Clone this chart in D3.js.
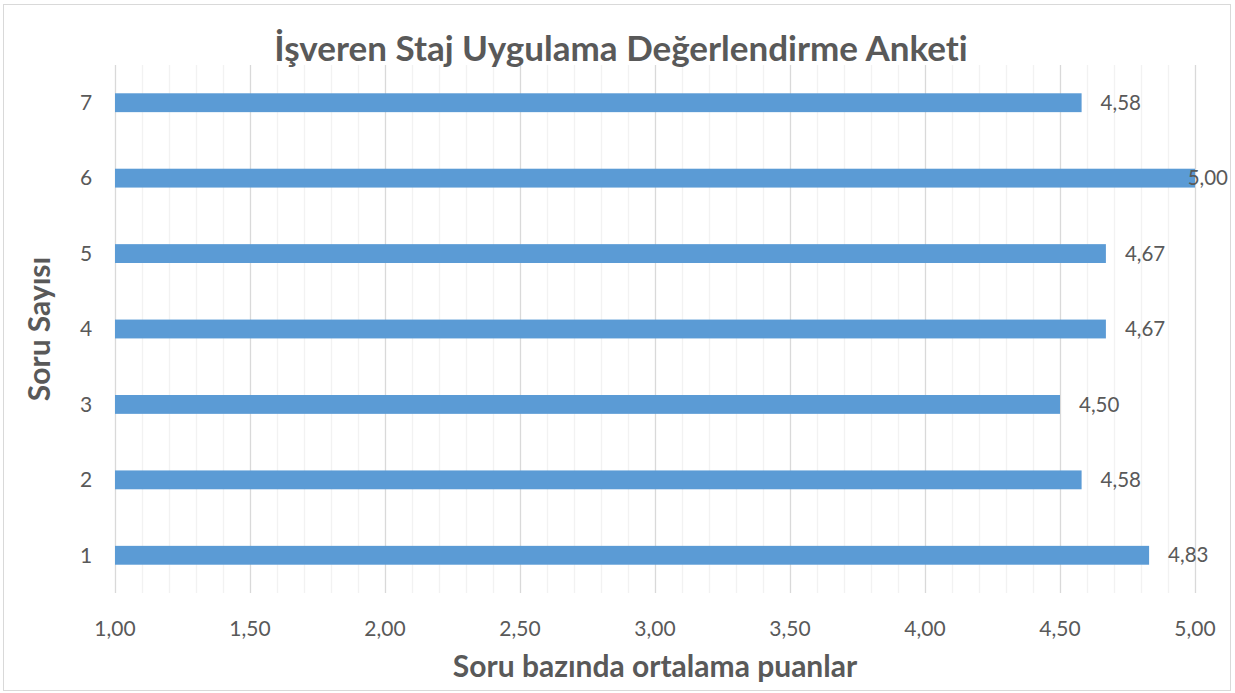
<!DOCTYPE html>
<html>
<head>
<meta charset="utf-8">
<script src="https://cdn.jsdelivr.net/npm/d3@7"></script>
<style>
    body { margin: 0; background: #fff; }
    text { font-family: Lato, "Open Sans", sans-serif; fill: #595959; font-variant-ligatures: none; }
</style>
</head>
<body>
<div id="chart"></div>
<script>
// chart data
var categories = ['1', '2', '3', '4', '5', '6', '7'];
var scores = [4.83, 4.58, 4.50, 4.67, 4.67, 5.00, 4.58];
var xTicks = [1.00, 1.50, 2.00, 2.50, 3.00, 3.50, 4.00, 4.50, 5.00];

var title = 'İşveren Staj Uygulama Değerlendirme Anketi';
var xTitle = 'Soru bazında ortalama puanlar';
var yTitle = 'Soru Sayısı';

var consts = {
    width: 1235,
    height: 693,
    left: 115,
    right: 1195,
    top: 65,
    bottom: 593
};

var fmt = function (v) { return d3.format('.2f')(v).replace('.', ','); };

var svg = d3.select('#chart').append('svg')
    .attr('width', consts.width)
    .attr('height', consts.height);

// outer frame
svg.append('rect')
    .attr('x', 3.5).attr('y', 4.5)
    .attr('width', 1227).attr('height', 686)
    .attr('fill', '#fff')
    .attr('stroke', '#D9D9D9');

var x = d3.scaleLinear().domain([1, 5]).range([consts.left, consts.right]);
var y = d3.scaleBand()
    .domain(categories.slice().reverse())
    .range([consts.top, consts.bottom])
    .paddingInner(0.75)
    .paddingOuter(0.375);

// minor gridlines every 0.1
var minor = d3.range(1, 5.001, 0.1).filter(function (v) {
    return Math.abs(v * 2 - Math.round(v * 2)) > 1e-6;
});
svg.append('g').selectAll('line')
    .data(minor).enter().append('line')
    .attr('x1', function (d) { return Math.round(x(d)) + 0.5; })
    .attr('x2', function (d) { return Math.round(x(d)) + 0.5; })
    .attr('y1', consts.top).attr('y2', consts.bottom)
    .attr('stroke', '#F2F2F2').attr('stroke-width', 1.3);

// major gridlines
svg.append('g').selectAll('line')
    .data(xTicks).enter().append('line')
    .attr('x1', function (d) { return Math.round(x(d)) + 0.5; })
    .attr('x2', function (d) { return Math.round(x(d)) + 0.5; })
    .attr('y1', consts.top).attr('y2', consts.bottom)
    .attr('stroke', '#D9D9D9').attr('stroke-width', 1.3);

// bars
svg.append('g').selectAll('rect')
    .data(scores).enter().append('rect')
    .attr('x', x(1))
    .attr('y', function (d, i) { return y(categories[i]); })
    .attr('width', function (d) { return x(d) - x(1); })
    .attr('height', y.bandwidth())
    .attr('fill', '#5B9BD5');

// value labels, pushed back inside the chart when they would overflow
var labels = svg.append('g').selectAll('text')
    .data(scores).enter().append('text')
    .attr('y', function (d, i) { return y(categories[i]) + y.bandwidth() / 2; })
    .attr('dy', '0.35em')
    .attr('font-size', 20.5)
    .text(fmt);
labels.attr('x', function (d) {
    var w = this.getComputedTextLength();
    return Math.min(x(d) + 19, 1228 - w);
});

// x axis tick labels
svg.append('g').selectAll('text')
    .data(xTicks).enter().append('text')
    .attr('x', function (d) { return x(d); })
    .attr('y', 636)
    .attr('text-anchor', 'middle')
    .attr('font-size', 21)
    .text(fmt);

// y axis tick labels
svg.append('g').selectAll('text')
    .data(categories).enter().append('text')
    .attr('x', 86)
    .attr('y', function (d) { return y(d) + y.bandwidth() / 2; })
    .attr('dy', '0.35em')
    .attr('text-anchor', 'middle')
    .attr('font-size', 21)
    .text(function (d) { return d; });

// titles
svg.append('text')
    .attr('x', 621).attr('y', 61)
    .attr('text-anchor', 'middle')
    .attr('font-size', 35)
    .attr('font-weight', 'bold')
    .text(title);

svg.append('text')
    .attr('x', 655).attr('y', 677)
    .attr('text-anchor', 'middle')
    .attr('font-size', 30)
    .attr('font-weight', 'bold')
    .text(xTitle);

svg.append('text')
    .attr('transform', 'translate(50,' + (consts.top + consts.bottom) / 2 + ') rotate(-90)')
    .attr('text-anchor', 'middle')
    .attr('font-size', 30)
    .attr('font-weight', 'bold')
    .text(yTitle);
</script>
</body>
</html>
